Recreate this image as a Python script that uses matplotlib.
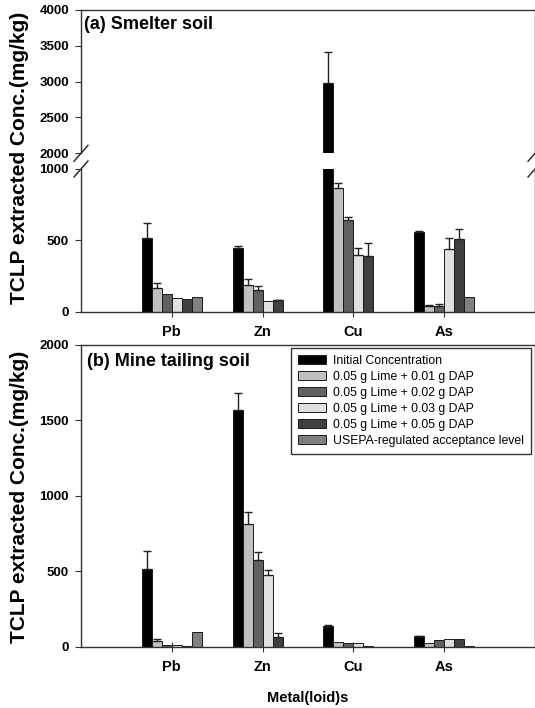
import numpy as np
import matplotlib
matplotlib.use("Agg")
import matplotlib.pyplot as plt

plt.rcParams['font.family'] = ['Liberation Sans', 'DejaVu Sans']

metals = ["Pb", "Zn", "Cu", "As"]
labels = ["Initial Concentration",
          "0.05 g Lime + 0.01 g DAP",
          "0.05 g Lime + 0.02 g DAP",
          "0.05 g Lime + 0.03 g DAP",
          "0.05 g Lime + 0.05 g DAP",
          "USEPA-regulated acceptance level"]
colors = ["#000000", "#c0c0c0", "#606060", "#e0e0e0", "#404040", "#808080"]

nan = np.nan

# (a) Smelter soil
smelter_vals = [
    [519, 449, 2981, 561],
    [166, 189, 869, 40],
    [122, 150, 643, 40],
    [98, 77, 395, 437],
    [89, 80, 388, 507],
    [100, nan, nan, 100],
]
smelter_err = [
    [105, 11, 429, 4],
    [33, 42, 33, 6],
    [0, 28, 18, 14],
    [0, 0, 54, 79],
    [0, 3, 96, 70],
    [0, 0, 0, 0],
]

# (b) Mine tailing soil
mine_vals = [
    [515, 1567, 139, 71],
    [38, 812, 29, 27],
    [9, 573, 27, 44],
    [8, 473, 22, 51],
    [2, 62, 2, 51],
    [100, nan, nan, 5],
]
mine_err = [
    [118, 115, 3, 3],
    [11, 83, 0, 0],
    [0, 57, 0, 0],
    [0, 36, 0, 0],
    [0, 27, 0, 0],
    [0, 0, 0, 0],
]

W, H = 535, 708
fig = plt.figure(figsize=(W / 100, H / 100), dpi=100)


def px_axes(left, top, right, bottom):
    return fig.add_axes([left / W, 1 - bottom / H, (right - left) / W, (bottom - top) / H])


ax_a_hi = px_axes(81, 10, 535, 153.3)
ax_a_lo = px_axes(81, 169, 535, 311.7)
ax_b = px_axes(81, 345, 535, 646.7)

x = np.arange(1, 5)
bw = 0.11


def draw_bars(ax, vals, errs, with_label=False):
    for i in range(6):
        pos = x + (i - 2.5) * bw
        v = np.array(vals[i], dtype=float)
        ax.bar(pos, v, bw, color=colors[i], edgecolor="#1a1a1a", linewidth=0.7,
               label=labels[i] if with_label else None, zorder=2)
        e = np.array(errs[i], dtype=float)
        m = e > 0
        if m.any():
            ax.errorbar(pos[m], v[m], yerr=[np.zeros(m.sum()), e[m]], fmt="none",
                        ecolor="#222222", elinewidth=1.0, capsize=3.1, capthick=1.0,
                        zorder=3)


def style(ax):
    ax.set_xlim(0, 5)
    for s in ax.spines.values():
        s.set_color("#333333")
        s.set_linewidth(1.0)
    ax.tick_params(axis="y", direction="out", length=4.3, width=0.8, pad=4.3,
                   labelsize=9.5, colors="#333333", labelcolor="black")
    ax.tick_params(axis="x", direction="inout", length=7, width=0.8, pad=6,
                   labelsize=10.5, colors="#333333", labelcolor="black")
    for t in ax.get_yticklabels() + ax.get_xticklabels():
        t.set_fontweight("bold")


draw_bars(ax_a_hi, smelter_vals, smelter_err)
draw_bars(ax_a_lo, smelter_vals, smelter_err)
draw_bars(ax_b, mine_vals, mine_err, with_label=True)

ax_a_hi.set_ylim(2000, 4000)
ax_a_hi.set_yticks([2000, 2500, 3000, 3500, 4000])
ax_a_hi.set_xticks([])
ax_a_hi.spines["bottom"].set_visible(False)

ax_a_lo.set_ylim(0, 1000)
ax_a_lo.set_yticks([0, 500, 1000])
ax_a_lo.set_xticks(x)
ax_a_lo.set_xticklabels(metals)
ax_a_lo.spines["top"].set_visible(False)

ax_b.set_ylim(0, 2000)
ax_b.set_yticks([0, 500, 1000, 1500, 2000])
ax_b.set_xticks(x)
ax_b.set_xticklabels(metals)

for ax in (ax_a_hi, ax_a_lo, ax_b):
    style(ax)

ax_b.set_xlabel("Metal(loid)s", fontsize=10.5, fontweight="bold", labelpad=12)

# break marks
dx = 7 / 454
for ax, ypos, h in ((ax_a_hi, 0.0, 143.3), (ax_a_lo, 1.0, 142.7)):
    dy = 8 / h
    for xpos in (0.0, 1.0):
        ax.plot([xpos - dx, xpos + dx], [ypos - dy, ypos + dy], transform=ax.transAxes,
                color="#222222", lw=1.0, clip_on=False, zorder=5)

ax_a_hi.text(0.007, 0.90, "(a) Smelter soil", transform=ax_a_hi.transAxes,
             fontsize=13, fontweight="bold", va="center", ha="left")
ax_b.text(0.013, 0.944, "(b) Mine tailing soil", transform=ax_b.transAxes,
          fontsize=13, fontweight="bold", va="center", ha="left")

fig.text(20 / W, 1 - 157.5 / H, "TCLP extracted Conc.(mg/kg)", rotation=90,
         fontsize=15, fontweight="bold", ha="center", va="center")
fig.text(20 / W, 1 - 496.5 / H, "TCLP extracted Conc.(mg/kg)", rotation=90,
         fontsize=15, fontweight="bold", ha="center", va="center")

leg = ax_b.legend(loc="upper right", bbox_to_anchor=(531 / W, 1 - 347.5 / H),
                  bbox_transform=fig.transFigure, fontsize=8.8, frameon=True,
                  fancybox=False, edgecolor="black", borderpad=0.6,
                  labelspacing=0.33, handlelength=2.3, handleheight=0.75,
                  handletextpad=0.55, borderaxespad=0)
leg.get_frame().set_linewidth(1.0)

fig.savefig("out.png", dpi=100)
